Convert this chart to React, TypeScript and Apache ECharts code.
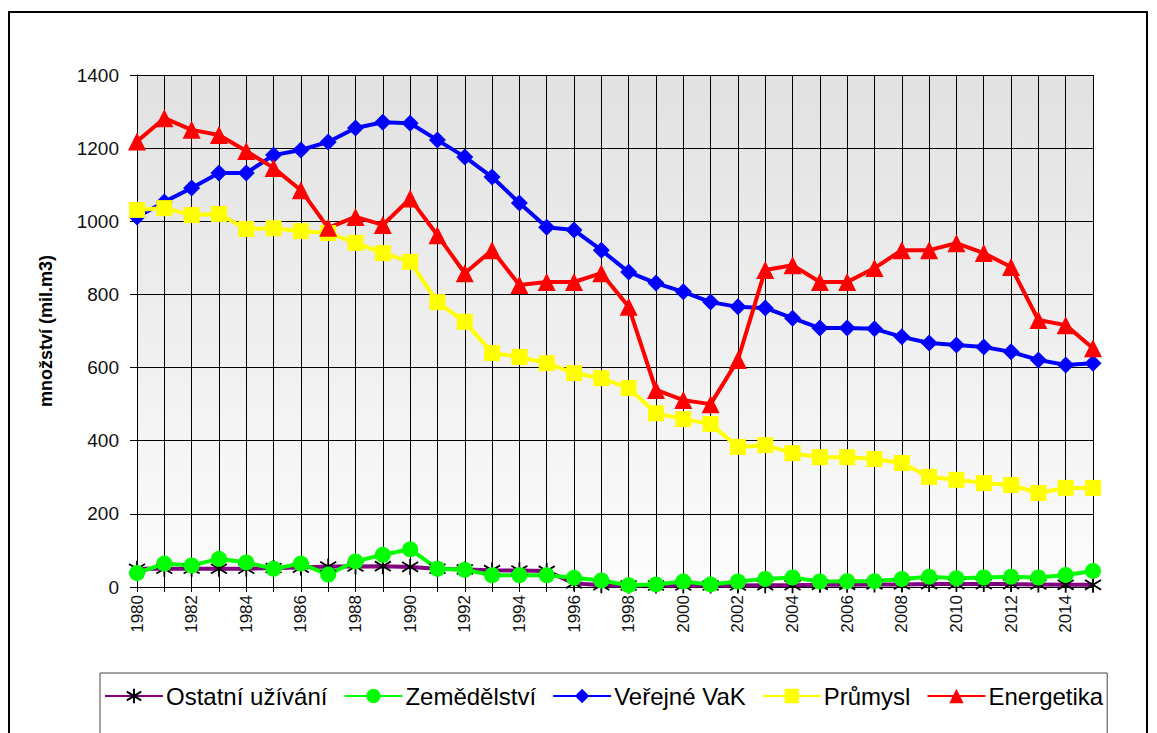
import React, { useEffect, useRef } from "react";
import * as echarts from "echarts";

const years: string[] = [];
for (let y = 1980; y <= 2015; y++) years.push(String(y));

const seriesNames = ["Ostatní užívání", "Zemědělství", "Veřejné VaK", "Průmysl", "Energetika"];

const ostatni = [50, 50, 50, 50, 50, 52, 53, 56, 56, 57, 55, 50, 48, 46, 45, 44, 10, 5, 4, 4, 4, 4, 4, 5, 5, 6, 6, 7, 7, 8, 8, 8, 8, 7, 6, 6];
const zemedelstvi = [38, 64, 59, 77, 67, 50, 64, 34, 70, 88, 103, 50, 47, 32, 32, 32, 25, 18, 5, 7, 15, 7, 15, 22, 26, 15, 16, 16, 22, 28, 24, 26, 28, 26, 33, 44];
const verejneVaK = [1012, 1053, 1091, 1132, 1132, 1181, 1195, 1217, 1255, 1271, 1268, 1222, 1176, 1121, 1050, 984, 976, 921, 861, 831, 807, 779, 766, 763, 735, 708, 708, 706, 684, 667, 662, 656, 643, 621, 607, 612];
const prumysl = [1031, 1036, 1017, 1020, 979, 981, 973, 968, 941, 913, 889, 779, 725, 640, 629, 612, 585, 571, 544, 475, 459, 446, 383, 388, 366, 355, 355, 350, 339, 301, 293, 284, 279, 257, 271, 271];
const energetika = [1218, 1282, 1250, 1236, 1192, 1146, 1085, 982, 1012, 990, 1062, 962, 858, 921, 826, 834, 834, 858, 766, 539, 511, 500, 621, 867, 880, 834, 834, 872, 921, 921, 940, 913, 875, 730, 716, 653];

const yTicks = { min: 0, max: 1400, interval: 200 };

const FONT = "'Liberation Sans', Arial, sans-serif";

export default function App() {
  const ref = useRef<HTMLDivElement>(null);
  useEffect(() => {
    if (!ref.current) return;
    const chart = echarts.init(ref.current, null, { renderer: "svg" });
    const lw = 4;
    const mk = (name: string, data: number[], color: string, symbol: string, size: number) => ({
      name,
      type: "line",
      data,
      symbol,
      symbolSize: size,
      showSymbol: true,
      showAllSymbol: true,
      lineStyle: { color, width: lw },
      itemStyle: { color },
      emphasis: { disabled: true },
    });
    chart.setOption({
      animation: false,
      backgroundColor: "#ffffff",
      textStyle: { fontFamily: FONT },
      graphic: [
        {
          type: "rect",
          z: -10,
          shape: { x: 1, y: 4, width: 1138, height: 800 },
          style: { fill: "none", stroke: "#000", lineWidth: 2 },
          silent: true,
        },
      ],
      grid: {
        left: 129,
        top: 67,
        right: 64,
        bottom: 146,
        show: true,
        borderWidth: 0,
        backgroundColor: {
          type: "linear",
          x: 0,
          y: 0,
          x2: 0,
          y2: 1,
          colorStops: [
            { offset: 0, color: "#e1e1e1" },
            { offset: 1, color: "#fcfcfc" },
          ],
        },
      },
      legend: {
        data: seriesNames,
        left: 92,
        top: 665,
        padding: [11, 4, 40, 4],
        borderColor: "#444",
        borderWidth: 1,
        itemWidth: 58,
        itemHeight: 18,
        itemGap: 16,
        textStyle: { fontSize: 24, color: "#000", fontFamily: FONT, padding: [0, 0, 0, -2] },
      },
      xAxis: {
        type: "category",
        data: years,
        boundaryGap: false,
        axisLine: { lineStyle: { color: "#000", width: 1 } },
        axisTick: { show: true, interval: 0, length: 5, lineStyle: { color: "#000" } },
        axisLabel: { interval: 1, rotate: 90, fontSize: 17, color: "#111", margin: 8, fontFamily: FONT },
        splitLine: { show: true, interval: 0, lineStyle: { color: "#000", width: 1 } },
      },
      yAxis: {
        type: "value",
        min: yTicks.min,
        max: yTicks.max,
        interval: yTicks.interval,
        name: "množství (mil.m3)",
        nameLocation: "middle",
        nameGap: 82,
        nameRotate: 90,
        nameTextStyle: { fontSize: 18, fontWeight: "bold", color: "#000", fontFamily: FONT },
        axisLine: { show: true, lineStyle: { color: "#000", width: 1 } },
        axisTick: { show: true, length: 7, lineStyle: { color: "#000" } },
        axisLabel: { fontSize: 19, color: "#111", margin: 18, fontFamily: FONT, formatter: (v: number) => String(v) },
        splitLine: { show: true, lineStyle: { color: "#000", width: 1 } },
      },
      series: [
        {
          ...mk(seriesNames[0], ostatni, "#800080", "path://M0,-10L0,10M-8.66,-6L8.66,6M-8.66,6L8.66,-6", 16),
          itemStyle: { color: "#000", borderColor: "#000", borderWidth: 1.8 },
        },
        mk(seriesNames[1], zemedelstvi, "#00ff00", "circle", 16),
        mk(seriesNames[2], verejneVaK, "#0000ff", "diamond", 17),
        mk(seriesNames[3], prumysl, "#ffff00", "rect", 16),
        mk(seriesNames[4], energetika, "#ff0000", "triangle", 18),
      ],
    });
    return () => chart.dispose();
  }, []);
  return <div ref={ref} style={{ width: 1149, height: 725 }} />;
}
